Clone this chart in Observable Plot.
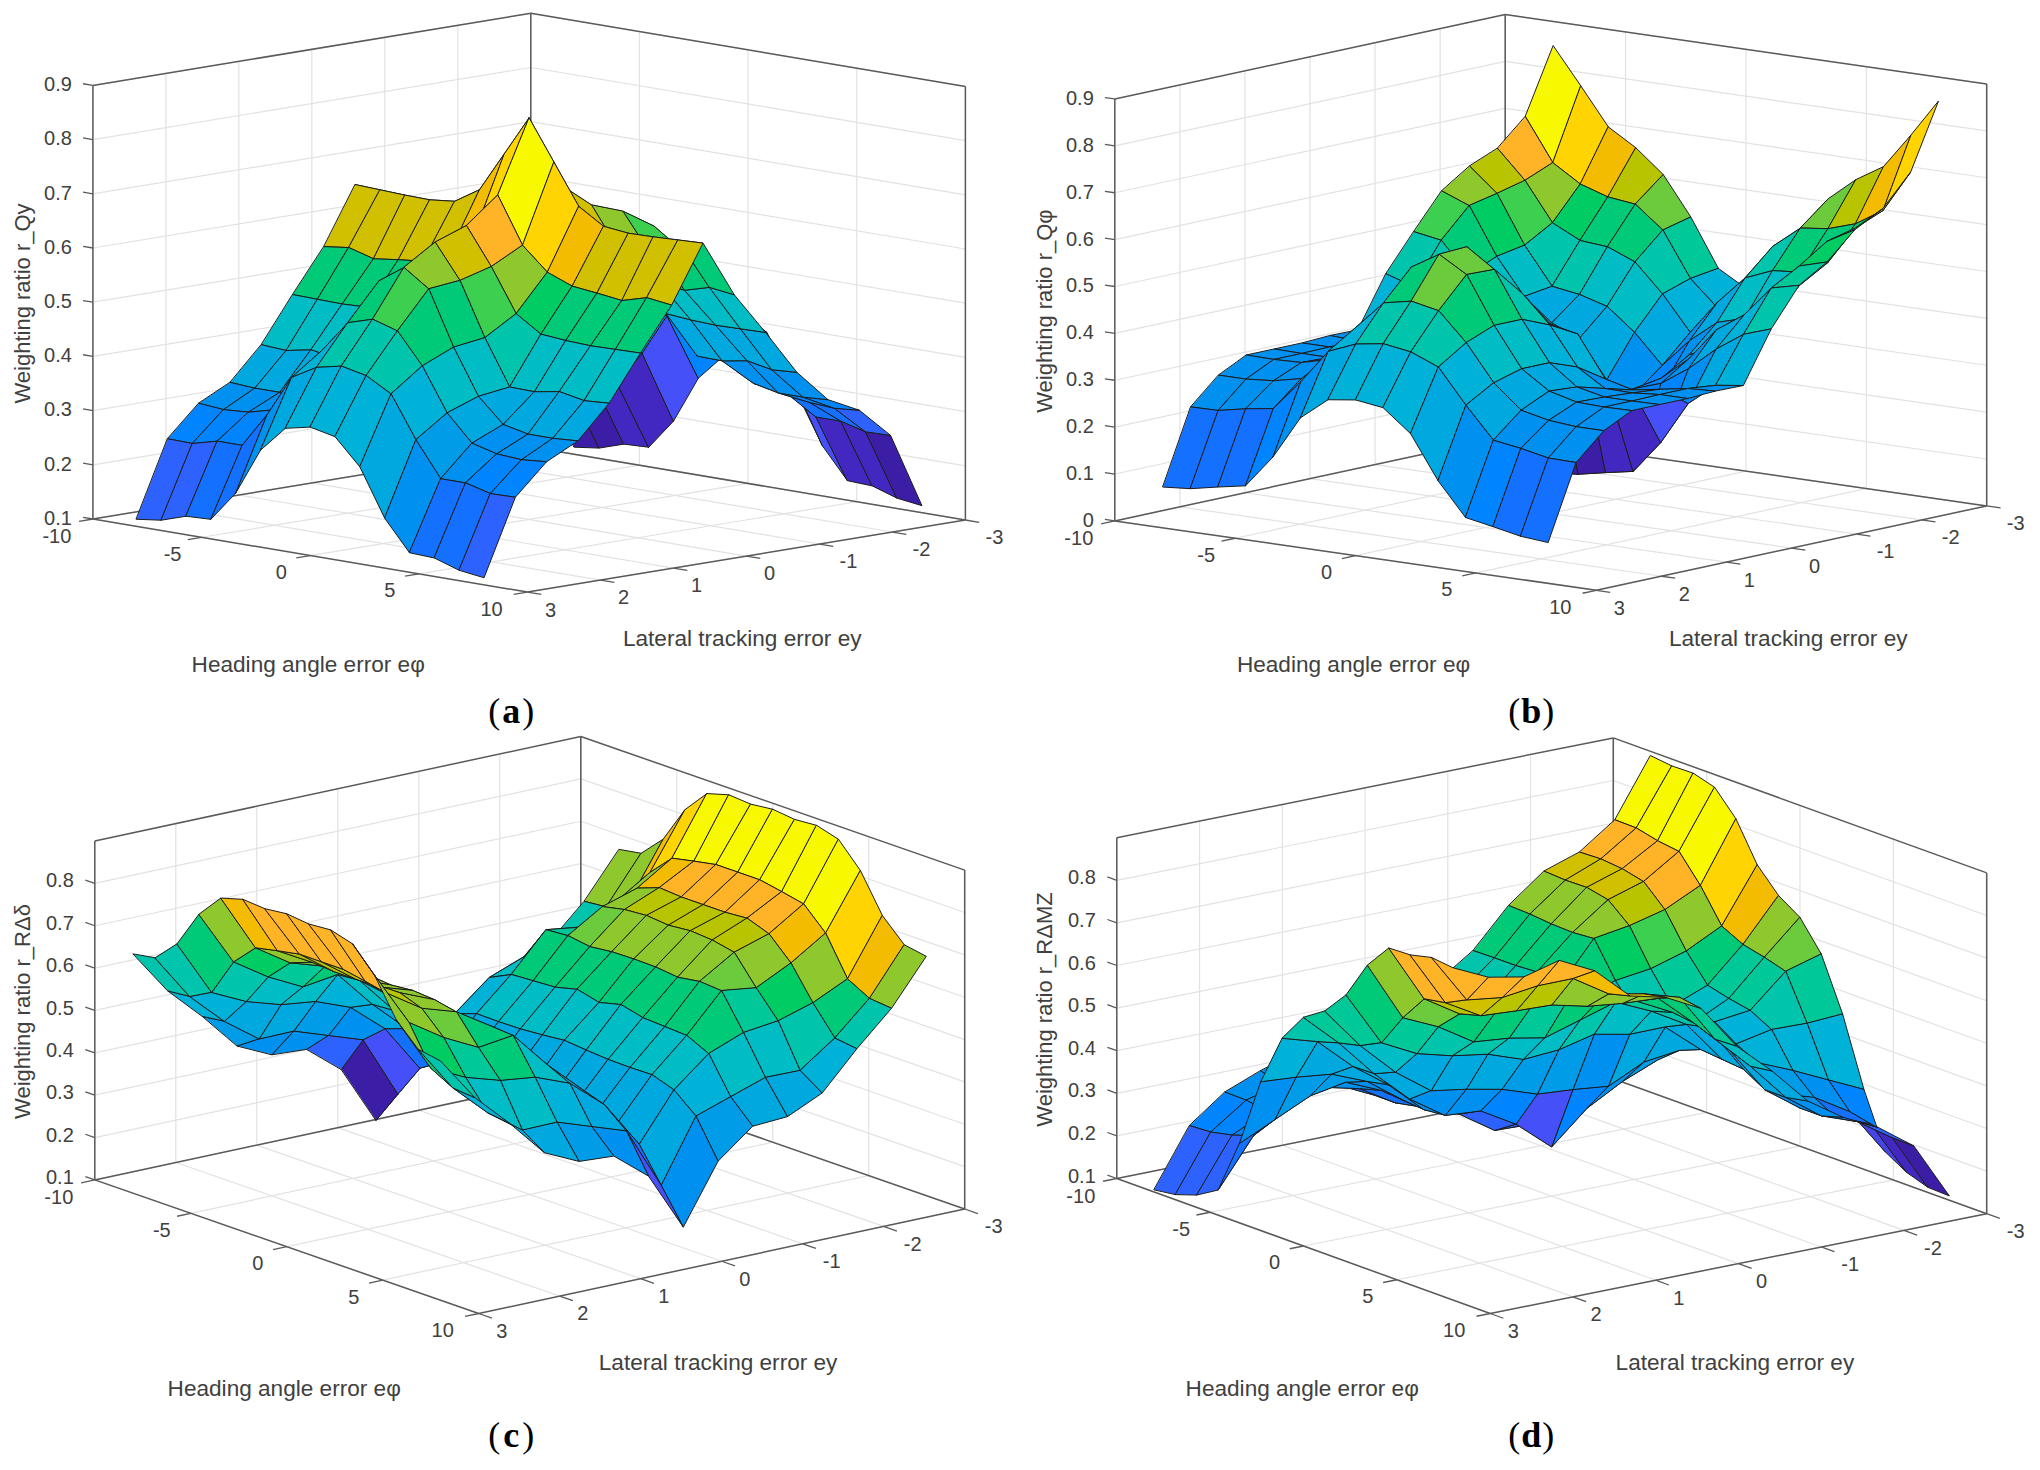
<!DOCTYPE html>
<html><head><meta charset="utf-8">
<style>html,body{margin:0;padding:0;background:#fff}svg{display:block}</style>
<script src="https://cdn.jsdelivr.net/npm/d3@7"></script>
<script src="https://cdn.jsdelivr.net/npm/@observablehq/plot@0.6"></script>
</head><body><div id="chart"></div>
<script>
const headingGrid=[-8,-6.857,-5.714,-4.571,-3.429,-2.286,-1.143,0,1.143,2.286,3.429,4.571,5.714,6.857,8];
const lateralGrid=[3,2.571,2.143,1.714,1.286,0.857,0.429,0,-0.429,-0.857,-1.286,-1.714,-2.143,-2.571,-3];
const headingTicks=[-10,-5,0,5,10];
const lateralTicks=[3,2,1,0,-1,-2,-3];
const rQy=[
[.113,.119,.134,.136,.192,.279,.327,.337,.327,.279,.192,.136,.134,.119,.113],
[.252,.251,.263,.263,.327,.404,.43,.44,.43,.404,.327,.263,.263,.251,.252],
[.308,.304,.307,.319,.367,.446,.503,.517,.503,.446,.367,.319,.307,.304,.308],
[.337,.334,.334,.344,.388,.471,.571,.603,.571,.471,.388,.344,.334,.334,.337],
[.397,.394,.403,.395,.396,.479,.577,.64,.577,.479,.396,.395,.403,.394,.397],
[.48,.479,.478,.48,.484,.514,.593,.661,.593,.514,.484,.48,.478,.479,.48],
[.559,.565,.552,.558,.563,.581,.623,.708,.623,.581,.563,.558,.552,.565,.559],
[.664,.662,.66,.659,.664,.693,.767,.841,.767,.693,.664,.659,.66,.662,.664],
[.559,.565,.552,.558,.563,.581,.623,.708,.623,.581,.563,.558,.552,.565,.559],
[.48,.479,.478,.48,.484,.514,.593,.661,.593,.514,.484,.48,.478,.479,.48],
[.397,.394,.403,.395,.396,.479,.577,.64,.577,.479,.396,.395,.403,.394,.397],
[.337,.334,.334,.344,.388,.471,.571,.603,.571,.471,.388,.344,.334,.334,.337],
[.308,.304,.307,.319,.367,.446,.503,.517,.503,.446,.367,.319,.307,.304,.308],
[.252,.251,.263,.263,.327,.404,.43,.44,.43,.404,.327,.263,.263,.251,.252],
[.113,.119,.134,.136,.192,.279,.327,.337,.327,.279,.192,.136,.134,.119,.113]];
const rQphi=[
[.087,.092,.104,.115,.185,.277,.324,.332,.324,.277,.185,.115,.104,.092,.087],
[.245,.246,.258,.267,.333,.406,.43,.439,.43,.406,.333,.267,.258,.246,.245],
[.30,.30,.305,.318,.368,.445,.505,.517,.505,.445,.368,.318,.305,.30,.30],
[.33,.329,.331,.346,.385,.469,.569,.604,.569,.469,.385,.346,.331,.329,.33],
[.33,.329,.329,.342,.385,.469,.567,.607,.567,.469,.385,.342,.329,.329,.33],
[.33,.33,.325,.326,.363,.444,.503,.53,.503,.444,.363,.326,.325,.33,.33],
[.333,.33,.32,.31,.325,.412,.425,.42,.425,.412,.325,.31,.32,.33,.333],
[.332,.324,.277,.185,.115,.104,.092,.087,.092,.104,.115,.185,.277,.324,.332],
[.439,.42,.38,.33,.29,.27,.25,.24,.25,.27,.29,.33,.38,.42,.44],
[.516,.506,.44,.40,.33,.28,.235,.225,.235,.28,.33,.40,.44,.506,.52],
[.59,.567,.467,.39,.342,.317,.237,.216,.237,.317,.342,.39,.467,.54,.557],
[.63,.58,.478,.399,.39,.373,.326,.264,.326,.373,.39,.399,.478,.58,.613],
[.655,.595,.513,.484,.479,.455,.395,.322,.395,.455,.479,.484,.513,.595,.645],
[.71,.62,.583,.564,.557,.51,.415,.36,.415,.51,.557,.564,.583,.62,.71],
[.848,.771,.692,.656,.607,.525,.424,.39,.424,.525,.607,.656,.692,.768,.849]];
const rRdelta=[
[.665,.674,.725,.813,.869,.884,.88,.886,.88,.884,.869,.813,.725,.674,.665],
[.56,.565,.593,.683,.734,.745,.755,.755,.755,.745,.734,.683,.593,.565,.56],
[.482,.489,.554,.63,.681,.70,.696,.696,.696,.70,.681,.63,.554,.489,.482],
[.395,.43,.529,.589,.655,.666,.67,.665,.67,.666,.655,.589,.529,.43,.395],
[.357,.431,.519,.60,.604,.596,.602,.603,.602,.596,.604,.60,.519,.431,.357],
[.352,.403,.487,.512,.515,.518,.531,.518,.531,.518,.515,.512,.487,.403,.352],
[.287,.375,.419,.437,.436,.437,.441,.446,.441,.437,.436,.437,.419,.375,.287],
[.149,.229,.308,.34,.345,.345,.347,.35,.347,.345,.345,.34,.308,.229,.149],
[.287,.375,.419,.437,.436,.437,.441,.446,.441,.437,.436,.437,.419,.375,.287],
[.352,.403,.487,.512,.515,.518,.531,.518,.531,.518,.515,.512,.487,.403,.352],
[.357,.431,.519,.60,.604,.596,.602,.603,.602,.596,.604,.60,.519,.431,.357],
[.395,.43,.529,.589,.655,.666,.67,.665,.67,.666,.655,.589,.529,.43,.395],
[.482,.489,.554,.63,.681,.70,.696,.696,.696,.70,.681,.63,.554,.489,.482],
[.56,.565,.593,.683,.734,.745,.755,.755,.755,.745,.734,.683,.593,.565,.56],
[.665,.674,.725,.813,.869,.884,.88,.886,.88,.884,.869,.813,.725,.674,.665]];
const rRMz=[
[.105,.112,.129,.159,.287,.45,.57,.637,.67,.726,.814,.872,.874,.886,.88],
[.239,.242,.253,.27,.326,.444,.545,.56,.572,.597,.674,.736,.745,.77,.841],
[.301,.30,.292,.32,.365,.434,.47,.471,.493,.555,.636,.684,.698,.759,.825],
[.334,.322,.33,.35,.38,.40,.41,.395,.433,.533,.584,.67,.693,.77,.847],
[.36,.33,.32,.33,.344,.34,.335,.34,.42,.52,.576,.665,.69,.77,.806],
[.39,.33,.28,.28,.29,.304,.308,.334,.403,.491,.56,.66,.67,.717,.73],
[.42,.33,.26,.26,.27,.28,.253,.286,.375,.497,.585,.655,.66,.70,.71],
[.44,.36,.27,.27,.27,.27,.25,.216,.369,.517,.61,.63,.655,.675,.667],
[.46,.45,.44,.44,.44,.47,.43,.29,.36,.50,.572,.587,.58,.56,.562],
[.516,.517,.517,.52,.50,.49,.45,.336,.40,.50,.524,.535,.50,.48,.487],
[.605,.603,.598,.596,.60,.519,.46,.37,.41,.43,.425,.42,.39,.39,.40],
[.669,.666,.667,.656,.613,.53,.46,.44,.46,.426,.40,.345,.33,.33,.345],
[.697,.699,.694,.682,.634,.555,.493,.48,.47,.443,.365,.32,.292,.30,.304],
[.756,.755,.743,.736,.674,.597,.572,.56,.545,.441,.326,.27,.259,.245,.244],
[.89,.884,.885,.87,.814,.724,.67,.637,.569,.446,.287,.159,.129,.112,.11]];
const ticksFrom01=[.1,.2,.3,.4,.5,.6,.7,.8,.9];
const ticksFrom00=[0,.1,.2,.3,.4,.5,.6,.7,.8,.9];
const ticksTo08=[.1,.2,.3,.4,.5,.6,.7,.8];
const colorStops=[.02,.05,.09,.16,.205,.225,.27,.33,.36,.42,.47,.52,.57,.60,.64,.655,.675,.695,.735,.75,.775,.80,.85,.95];
const colorRange=["#3c1ea6","#4228c0","#4444e8","#4650f8","#2e62ff","#1470ff","#0084ff","#0090f0","#009ce8","#00a8e0","#00b2d8","#00bcc4","#00c4ac","#00c898","#00ca78","#00cc64","#3ccf50","#6ccb3c","#8ec82c","#b8c400","#d0c000","#f4bc00","#ffb428","#ffd400","#f8f800"];
const panels=[
 {tag:"a",grid:rQy,zName:"Weighting ratio r_Qy",zTicks:ticksFrom01,L:[92.4,518.5],F:[527,591.6],R:[964.9,519.5],z0:.1,zs:542,
  head:[307.7,663.8],lat:[741.7,638],zlab:[22.8,303],cap:[510.7,710.6]},
 {tag:"b",grid:rQphi,zName:"Weighting ratio r_Qφ",zTicks:ticksFrom00,L:[1114.3,520.4],F:[1595.8,589.8],R:[1986.2,505.4],z0:0,zs:468.8,
  head:[1353,663.8],lat:[1787.7,638],zlab:[1044.7,310.6],cap:[1530.7,710.6]},
 {tag:"c",grid:rRdelta,zName:"Weighting ratio r_RΔδ",zTicks:ticksTo08,L:[94.3,1179.4],F:[478.2,1313],R:[964.2,1208.5],z0:.1,zs:423.6,
  head:[283.7,1388],lat:[717.6,1361.8],zlab:[22.8,1011],cap:[510.7,1434.5]},
 {tag:"d",grid:rRMz,zName:"Weighting ratio r_RΔMZ",zTicks:ticksTo08,L:[1116.3,1178],F:[1489.7,1313],R:[1986.2,1213.2],z0:.1,zs:426,
  head:[1301.7,1388],lat:[1734.4,1361.8],zlab:[1044,1009],cap:[1530.7,1434.5]}
];
const faces=[],gridSegs=[],boxSegs=[],tickSegs=[],zTexts=[],midTexts=[],titleTexts=[],zTitleTexts=[],capReg=[],capBold=[];
const zTop=.9;
panels.forEach(p=>{
 const proj=(x,y,z)=>{const u=(x+10)/20,v=(3-y)/6;
  return [p.L[0]+u*(p.F[0]-p.L[0])+v*(p.R[0]-p.F[0]), p.L[1]+u*(p.F[1]-p.L[1])+v*(p.R[1]-p.F[1])-(z-p.z0)*p.zs];};
 const seg=(arr,a,b)=>arr.push({x1:a[0],y1:a[1],x2:b[0],y2:b[1]});
 const z0=p.z0;
 p.zTicks.forEach(z=>{seg(gridSegs,proj(-10,3,z),proj(-10,-3,z));seg(gridSegs,proj(-10,-3,z),proj(10,-3,z));});
 headingTicks.forEach(x=>{seg(gridSegs,proj(x,-3,z0),proj(x,-3,zTop));seg(gridSegs,proj(x,-3,z0),proj(x,3,z0));});
 lateralTicks.forEach(y=>{seg(gridSegs,proj(-10,y,z0),proj(-10,y,zTop));seg(gridSegs,proj(-10,y,z0),proj(10,y,z0));});
 seg(boxSegs,proj(-10,3,z0),proj(-10,3,zTop));seg(boxSegs,proj(-10,-3,z0),proj(-10,-3,zTop));seg(boxSegs,proj(10,-3,z0),proj(10,-3,zTop));
 seg(boxSegs,proj(-10,3,zTop),proj(-10,-3,zTop));seg(boxSegs,proj(-10,-3,zTop),proj(10,-3,zTop));
 seg(boxSegs,proj(-10,3,z0),proj(-10,-3,z0));seg(boxSegs,proj(-10,-3,z0),proj(10,-3,z0));
 seg(boxSegs,proj(-10,3,z0),proj(10,3,z0));seg(boxSegs,proj(10,3,z0),proj(10,-3,z0));
 const ext=d3.extent(p.grid.flat());
 for(let i=0;i<14;i++)for(let j=13;j>=0;j--){
  const t=(p.grid[j+1][i]-ext[0])/(ext[1]-ext[0]);
  const id=p.tag+i+"_"+j;
  [[i,j+1],[i+1,j+1],[i+1,j],[i,j]].forEach(([a,b])=>{
   const q=proj(headingGrid[a],lateralGrid[b],p.grid[b][a]);
   faces.push({face:id,px:q[0],py:q[1],t});});
 }
 const dFL=[p.F[0]-p.L[0],p.F[1]-p.L[1]],dFR=[p.R[0]-p.F[0],p.R[1]-p.F[1]];
 const nL=Math.hypot(...dFL),nR=Math.hypot(...dFR);
 p.zTicks.forEach(z=>{const a=proj(-10,3,z),b=[a[0]-dFL[0]/nL*10,a[1]-dFL[1]/nL*10];seg(tickSegs,a,b);
  zTexts.push({x:a[0]-21,y:b[1]+1,text:String(z)});});
 headingTicks.forEach(x=>{const a=proj(x,3,z0);seg(tickSegs,a,[a[0]-dFR[0]/nR*14,a[1]-dFR[1]/nR*14]);
  midTexts.push({x:a[0]-(Math.abs(x)==10?36:29),y:a[1]+(x==-10?18:17),text:String(x)});});
 lateralTicks.forEach(y=>{const a=proj(10,y,z0);seg(tickSegs,a,[a[0]+dFL[0]/nL*14,a[1]+dFL[1]/nL*14]);
  midTexts.push({x:a[0]+(y<0?29:23),y:a[1]+18,text:String(y)});});
 titleTexts.push({x:p.head[0],y:p.head[1],text:"Heading angle error eφ"},{x:p.lat[0],y:p.lat[1],text:"Lateral tracking error ey"});
 zTitleTexts.push({x:p.zlab[0],y:p.zlab[1],text:p.zName});
 capReg.push({x:p.cap[0]-17,y:p.cap[1],text:"("},{x:p.cap[0]+17,y:p.cap[1],text:")"});
 capBold.push({x:p.cap[0],y:p.cap[1],text:p.tag});
});
const sans="Liberation Sans",serif="Liberation Serif",ink="#404040";
const chart=Plot.plot({
 width:2040,height:1470,margin:0,
 x:{type:"identity",axis:null},y:{type:"identity",axis:null},
 color:{type:"threshold",domain:colorStops,range:colorRange},
 style:{background:"#fff"},
 marks:[
  Plot.link(gridSegs,{x1:"x1",y1:"y1",x2:"x2",y2:"y2",stroke:"#e2e2e2",strokeWidth:1.2}),
  Plot.link(boxSegs,{x1:"x1",y1:"y1",x2:"x2",y2:"y2",stroke:"#5a5a5a",strokeWidth:1.5}),
  Plot.link(tickSegs,{x1:"x1",y1:"y1",x2:"x2",y2:"y2",stroke:"#5a5a5a",strokeWidth:1.3}),
  Plot.line(faces,{x:"px",y:"py",z:"face",fill:"t",stroke:"#1c1c1c",strokeWidth:1,curve:"linear-closed",strokeLinejoin:"round"}),
  Plot.text(zTexts,{x:"x",y:"y",text:"text",textAnchor:"end",fontFamily:sans,fontSize:20,fill:ink}),
  Plot.text(midTexts,{x:"x",y:"y",text:"text",fontFamily:sans,fontSize:20,fill:ink}),
  Plot.text(titleTexts,{x:"x",y:"y",text:"text",fontFamily:sans,fontSize:22.6,fill:ink}),
  Plot.text(zTitleTexts,{x:"x",y:"y",text:"text",rotate:-90,fontFamily:sans,fontSize:22,fill:ink}),
  Plot.text(capReg,{x:"x",y:"y",text:"text",fontFamily:serif,fontSize:36,fill:"#000"}),
  Plot.text(capBold,{x:"x",y:"y",text:"text",fontFamily:serif,fontSize:36,fontWeight:"bold",fill:"#000"})
 ]
});
document.getElementById("chart").append(chart);
</script></body></html>
